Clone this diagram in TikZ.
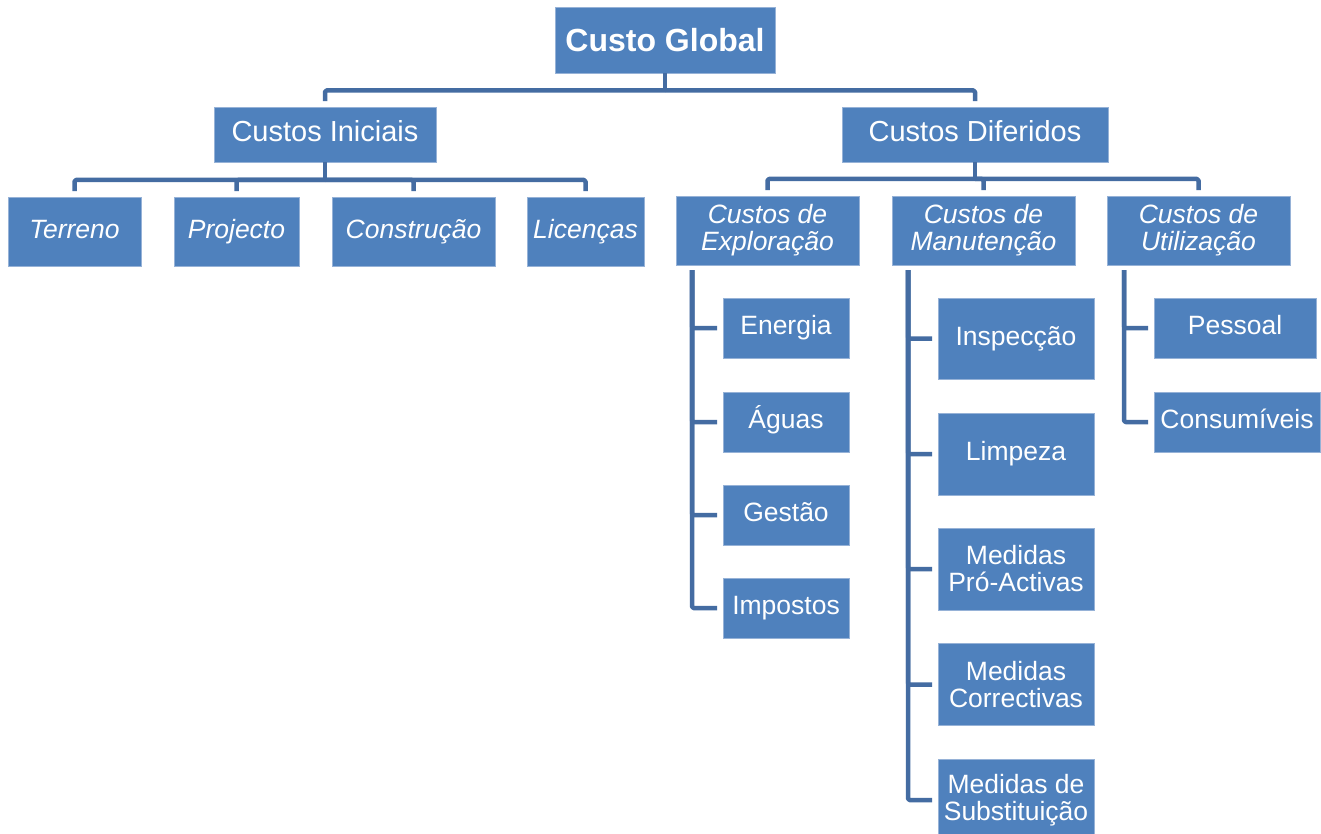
\documentclass[tikz,border=0pt]{standalone}
\usepackage{fontspec}
\setmainfont{Liberation Sans}
\definecolor{boxblue}{RGB}{79,129,189}
\definecolor{linkblue}{RGB}{68,108,162}
\definecolor{edgeblue}{RGB}{150,178,215}
\begin{document}
\begin{tikzpicture}[x=1pt,y=-1pt,
  box/.style={fill=boxblue, draw=edgeblue, line width=0.6pt, text=white, inner sep=1pt, align=center},
  oneline/.style={text height=19.3pt, text depth=5.6pt},
  onelinebig/.style={text height=21pt, text depth=6pt},
  lvlzero/.style={box, font=\fontsize{32}{34}\selectfont\bfseries},
  lvlone/.style={box, onelinebig, font=\fontsize{29}{30}\selectfont},
  lvltwo/.style={box, font=\fontsize{26.5}{27}\selectfont\itshape},
  lvlthree/.style={box, font=\fontsize{26.5}{27}\selectfont},
  conn/.style={draw=linkblue, line width=4.5pt, line join=round, rounded corners=1.5pt},
  drop/.style={conn, shorten >=5.5pt},
  side/.style={conn, shorten >=5.5pt}]
\useasboundingbox (0,0) rectangle (1321,834);
\clip (0,0) rectangle (1321,834);
\fill[white] (0,0) rectangle (1321,834);
% level 0 and 1
\node[lvlzero, minimum width=220pt, minimum height=66pt] (cg) at (665,40) {Custo Global};
\node[lvlone, minimum width=222pt, minimum height=55pt] (ci) at (325,134.5) {Custos Iniciais};
\node[lvlone, minimum width=266pt, minimum height=55pt] (cd) at (975,134.5) {Custos Diferidos};
% level 2 under Iniciais
\node[lvltwo, oneline, minimum width=133pt, minimum height=69pt] (te) at (74.5,231.5) {Terreno};
\node[lvltwo, oneline, minimum width=125pt, minimum height=69pt] (pr) at (236.5,231.5) {Projecto};
\node[lvltwo, oneline, minimum width=163pt, minimum height=69pt] (co) at (413.5,231.5) {Construção};
\node[lvltwo, oneline, minimum width=117pt, minimum height=69pt] (li) at (585.5,231.5) {Licenças};
% level 2 under Diferidos
\node[lvltwo, minimum width=183pt, minimum height=69pt] (ex) at (767.5,230.5) {Custos de\\Exploração};
\node[lvltwo, minimum width=183pt, minimum height=69pt] (ma) at (983.5,230.5) {Custos de\\Manutenção};
\node[lvltwo, minimum width=183pt, minimum height=69pt] (ut) at (1198.5,230.5) {Custos de\\Utilização};
% Exploracao children
\node[lvlthree, oneline, minimum width=126pt, minimum height=60pt] (en) at (786,328) {Energia};
\node[lvlthree, oneline, minimum width=126pt, minimum height=60pt] (ag) at (786,422) {Águas};
\node[lvlthree, oneline, minimum width=126pt, minimum height=60pt] (ge) at (786,515) {Gestão};
\node[lvlthree, oneline, minimum width=126pt, minimum height=60pt] (im) at (786,608) {Impostos};
% Manutencao children
\node[lvlthree, oneline, minimum width=156pt, minimum height=81pt] (in) at (1016,338.5) {Inspecção};
\node[lvlthree, oneline, minimum width=156pt, minimum height=82pt] (lp) at (1016,454) {Limpeza};
\node[lvlthree, minimum width=156pt, minimum height=82pt] (pa) at (1016,569) {Medidas\\Pró-Activas};
\node[lvlthree, minimum width=156pt, minimum height=82pt] (mc) at (1016,684.5) {Medidas\\Correctivas};
\node[lvlthree, minimum width=156pt, minimum height=82pt] (ms) at (1016,800) {Medidas de\\Substituição};
% Utilizacao children
\node[lvlthree, oneline, minimum width=162pt, minimum height=60pt] (pe) at (1235,328) {Pessoal};
\node[lvlthree, oneline, minimum width=166pt, minimum height=60pt] (cs) at (1237,422) {Consumíveis};
% bus coordinates
\coordinate (b0) at (665,90.5);
\coordinate (b1) at (325,180);
\coordinate (b2) at (975,179);
\coordinate (ve) at (692,270);
\coordinate (vm) at (908,270);
\coordinate (vu) at (1124,270);
% connectors
\draw[conn] (cg.south) -- (b0);
\draw[drop] (b0) -| (ci.north);
\draw[drop] (b0) -| (cd.north);
\draw[conn] (ci.south) -- (b1);
\draw[drop] (b1) -| (te.north);
\draw[drop] (b1) -| (pr.north);
\draw[drop] (b1) -| (co.north);
\draw[drop] (b1) -| (li.north);
\draw[conn] (cd.south) -- (b2);
\draw[drop] (b2) -| (ex.north);
\draw[drop] (b2) -| (ma.north);
\draw[drop] (b2) -| (ut.north);
\foreach \c in {en,ag,ge,im} \draw[side] (ve) |- (\c.west);
\foreach \c in {in,lp,pa,mc,ms} \draw[side] (vm) |- (\c.west);
\foreach \c in {pe,cs} \draw[side] (vu) |- (\c.west);
\end{tikzpicture}
\end{document}
